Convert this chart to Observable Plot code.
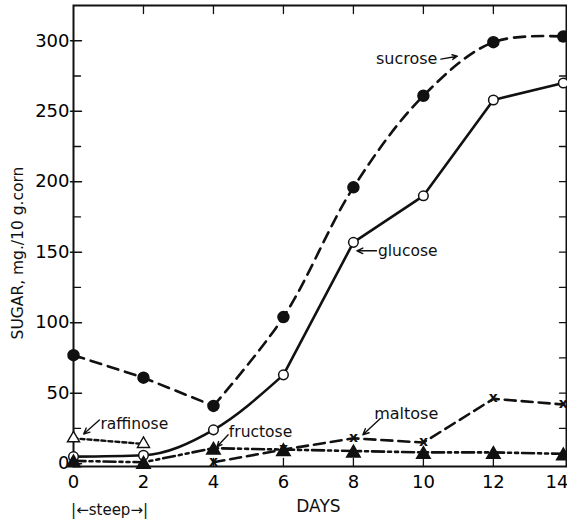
<!DOCTYPE html>
<html>
<head>
<meta charset="utf-8">
<script src="https://cdn.jsdelivr.net/npm/d3@7"></script>
<script src="https://cdn.jsdelivr.net/npm/@observablehq/plot@0.6"></script>
<style>
  html, body { margin: 0; padding: 0; background: #fff; }
  #chart svg { display: block; }
</style>
</head>
<body>
<div id="chart"></div>
<script>
const days = [0, 2, 4, 6, 8, 10, 12, 14];
const sucrose = [77, 61, 41, 104, 196, 261, 299, 303];
const glucose = [5, 6, 24, 63, 157, 190, 258, 270];
const maltoseDays = [4, 6, 8, 10, 12, 14];
const maltose = [1, 10, 18, 15, 46, 42];
const fructose = [2, 1, 11, 10, 9, 8, 8, 7];
const raffinoseDays = [0, 2];
const raffinose = [18, 14];

const yMajor = [0, 50, 100, 150, 200, 250, 300];
const yMinor = [25, 75, 125, 175, 225, 275];
const yRight = [25, 50, 75, 100, 125, 150, 175, 200, 225, 250, 275, 300];
const xTicks = [0, 2, 4, 6, 8, 10, 12, 14];

// annotation labels (data space)
const labelsEnd = [{text: "sucrose", x: 10.4, y: 287}];
const labelsStart = [
  {text: "glucose", x: 8.7, y: 151},
  {text: "raffinose", x: 0.77, y: 28},
  {text: "fructose", x: 4.44, y: 22.5}
];
const labelsMid = [{text: "maltose", x: 9.51, y: 35.5}];
const arrows = [
  {x1: 10.5, y1: 287, x2: 10.97, y2: 289},
  {x1: 8.66, y1: 151, x2: 8.1, y2: 151},
  {x1: 0.74, y1: 31, x2: 0.29, y2: 21},
  {x1: 4.42, y1: 20.5, x2: 4.1, y2: 12},
  {x1: 8.77, y1: 32, x2: 8.27, y2: 20.5}
];

const S = (xs, ys) => xs.map((x, i) => ({x, y: ys[i]}));
const suc = S(days, sucrose), glu = S(days, glucose), mal = S(maltoseDays, maltose),
      fru = S(days, fructose), raf = S(raffinoseDays, raffinose);

const tickShape = {draw(c, l) { c.moveTo(0, 0); c.lineTo(0, -l); }};
const vt = (data, o) => Plot.vector(data, {anchor: "start", stroke: "#111", strokeWidth: 1.3, shape: tickShape, ...o});

const chart = Plot.plot({
  width: 567,
  height: 522,
  marginLeft: 73,
  marginRight: 1,
  marginTop: 5,
  marginBottom: 56,
  style: {fontFamily: "DejaVu Sans, sans-serif", background: "#fff", color: "#000"},
  x: {domain: [0, 14.09]},
  y: {domain: [-2, 325]},
  marks: [
    Plot.frame({stroke: "#111", strokeWidth: 2}),
    Plot.axisY(yMajor, {tickSize: 0, tickPadding: 4, fontSize: 18, label: null}),
    Plot.axisX(xTicks.slice(0, -1), {tickSize: 0, tickPadding: 9, fontSize: 18, label: null, tickFormat: d => String(d)}),
    Plot.axisX(xTicks.slice(-1), {tickSize: 0, tickPadding: 9, fontSize: 18, label: null, tickFormat: d => String(d), textAnchor: "end", dx: 5}),
    // inward ticks
    vt(yMajor, {x: 0, y: d => d, length: 8, rotate: 90, strokeWidth: 1.5}),
    vt(yMajor, {x: 0, y: d => d, length: 3, rotate: -90, strokeWidth: 1.5}),
    vt(yMinor, {x: 0, y: d => d, length: 7, rotate: 90}),
    vt(yRight, {x: 14.09, y: d => d, length: 7, rotate: -90}),
    vt(xTicks.slice(1, -1), {x: d => d, y: 325, length: 8, rotate: 180}),
    vt(xTicks.slice(1, -1), {x: d => d, y: -2, length: 8, rotate: 0}),
    // lines
    Plot.line(suc.filter(d => d.x <= 4), {x: "x", y: "y", stroke: "#111", strokeWidth: 2.6, strokeDasharray: "11,7"}),
    Plot.line(suc.filter(d => d.x >= 4), {x: "x", y: "y", curve: "catmull-rom", stroke: "#111", strokeWidth: 2.6, strokeDasharray: "11,7"}),
    Plot.line(glu.filter(d => d.x <= 6), {x: "x", y: "y", curve: "monotone-x", stroke: "#111", strokeWidth: 2.6}),
    Plot.line(glu.filter(d => d.x >= 6), {x: "x", y: "y", stroke: "#111", strokeWidth: 2.6}),
    Plot.line(mal, {x: "x", y: "y", stroke: "#111", strokeWidth: 2.6, strokeDasharray: "11,6"}),
    Plot.line(fru, {x: "x", y: "y", stroke: "#111", strokeWidth: 2.6, strokeDasharray: "12,4,3,4,3,4"}),
    Plot.line(raf, {x: "x", y: "y", stroke: "#111", strokeWidth: 2.4, strokeDasharray: "4,3"}),
    // markers
    Plot.dot(suc, {x: "x", y: "y", r: 5.5, fill: "#111", stroke: "#111"}),
    Plot.dot(glu, {x: "x", y: "y", r: 4.8, fill: "#fff", stroke: "#111", strokeWidth: 1.5}),
    Plot.dot(fru, {x: "x", y: "y", symbol: "triangle", r: 5, fill: "#111", stroke: "#111", dy: 2}),
    Plot.dot(raf, {x: "x", y: "y", symbol: "triangle", r: 4.5, fill: "#fff", stroke: "#111", strokeWidth: 1.4}),
    Plot.text(mal, {x: "x", y: "y", text: () => "x", fontSize: 14, fontWeight: "bold", fill: "#111", dy: -1}),
    // annotations
    Plot.text(labelsEnd, {x: "x", y: "y", text: "text", textAnchor: "end", fontSize: 16, fill: "#111"}),
    Plot.text(labelsStart, {x: "x", y: "y", text: "text", textAnchor: "start", fontSize: 15.5, fill: "#111"}),
    Plot.text(labelsMid, {x: "x", y: "y", text: "text", textAnchor: "middle", fontSize: 16, fill: "#111"}),
    Plot.arrow(arrows, {x1: "x1", y1: "y1", x2: "x2", y2: "y2", stroke: "#111", strokeWidth: 1.4, headLength: 7, headAngle: 50}),
    // axis titles
    Plot.text(["SUGAR, mg./10 g.corn"], {frameAnchor: "left", textAnchor: "middle", dx: -55, dy: 17, rotate: -90, fontSize: 15.5, fill: "#111", text: d => d}),
    Plot.text(["DAYS"], {x: 7, frameAnchor: "bottom", dy: 45, fontSize: 17, fill: "#111", text: d => d, letterSpacing: "1px"}),
    Plot.text(["|\u2190steep\u2192|"], {x: 1.03, frameAnchor: "bottom", dy: 48, fontSize: 15, fill: "#111", text: d => d})
  ]
});
document.getElementById("chart").append(chart);
</script>
</body>
</html>
